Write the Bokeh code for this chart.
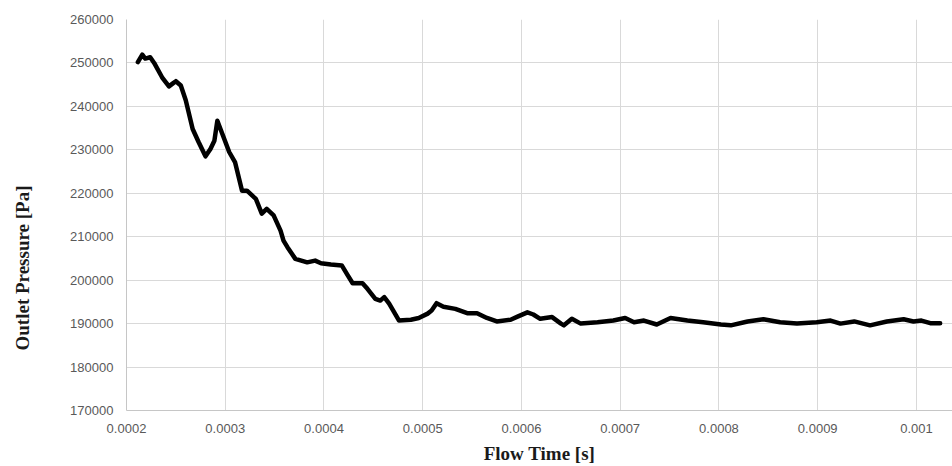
from bokeh.plotting import figure
from bokeh.models import Range1d, FixedTicker, CustomJSTickFormatter, Title
from bokeh.embed import file_html
from bokeh.resources import INLINE

# Flow time [s] and outlet pressure [Pa]
flow_time = [
    0.0002115, 0.000216, 0.000219, 0.000224, 0.000228, 0.000236, 0.000243, 0.000247,
    0.00025, 0.000255, 0.00026, 0.000267, 0.000273, 0.00028, 0.000285, 0.000289,
    0.000292, 0.000297, 0.000304, 0.00031, 0.000317, 0.000322, 0.000331, 0.000337,
    0.000342, 0.000349, 0.000356, 0.000359, 0.000363, 0.000371, 0.000383, 0.000391,
    0.000397, 0.000407, 0.000418, 0.000423, 0.000429, 0.000439, 0.000444, 0.000452,
    0.000457, 0.000461, 0.000466, 0.000476, 0.000488, 0.000496, 0.000505, 0.000509,
    0.000514, 0.000521, 0.000533, 0.000545, 0.000555, 0.000565, 0.000575, 0.000589,
    0.000596, 0.000606, 0.000612, 0.000619, 0.000631, 0.00064, 0.000643, 0.000651,
    0.00066, 0.000677, 0.000693, 0.000705, 0.000714, 0.000724, 0.000737, 0.000751,
    0.000768, 0.000784, 0.000802, 0.000812, 0.000829, 0.000845, 0.000862, 0.000879,
    0.000899, 0.000913, 0.000923, 0.000937, 0.000953, 0.00097, 0.000987, 0.000997,
    0.001005, 0.001014, 0.001024,
]
outlet_pressure = [
    250200, 251900, 251000, 251300, 250000, 246700, 244600, 245300,
    245800, 244800, 241400, 234800, 231800, 228500, 230200, 232100,
    236700, 233700, 229500, 227100, 220600, 220600, 218700, 215300,
    216400, 214900, 211400, 209100, 207600, 204900, 204100, 204500,
    203900, 203600, 203400, 201500, 199300, 199300, 198000, 195700,
    195300, 196100, 194600, 190700, 190900, 191300, 192300, 193000,
    194700, 193900, 193400, 192400, 192400, 191300, 190500, 190900,
    191600, 192600, 192100, 191100, 191500, 190000, 189600, 191100,
    190000, 190300, 190700, 191300, 190300, 190700, 189800, 191300,
    190700, 190300, 189800, 189600, 190500, 191000, 190300, 190000,
    190300, 190700, 190000, 190500, 189600, 190500, 191000, 190500,
    190700, 190100, 190100,
]

x_ticks = [0.0002, 0.0003, 0.0004, 0.0005, 0.0006, 0.0007, 0.0008, 0.0009, 0.001]
y_ticks = [170000, 180000, 190000, 200000, 210000, 220000, 230000, 240000, 250000, 260000]

p = figure(
    width=952, height=466,
    output_backend="svg", toolbar_location=None,
    x_range=Range1d(0.0002, 0.0010365), y_range=Range1d(170000, 260000),
    min_border_left=126, min_border_right=0, min_border_top=19, min_border_bottom=56,
)
p.outline_line_color = None
p.background_fill_color = "white"
p.border_fill_color = "white"

grid_color = "#d9d9d9"
axis_color = "#c6c6c6"
tick_color = "#595959"

p.xaxis.ticker = FixedTicker(ticks=x_ticks)
p.yaxis.ticker = FixedTicker(ticks=y_ticks)
p.xaxis.formatter = CustomJSTickFormatter(code="return String(Number(tick.toFixed(4)));")
p.yaxis.formatter = CustomJSTickFormatter(code="return String(Math.round(tick));")

for ax in (p.xaxis[0], p.yaxis[0]):
    ax.axis_line_color = axis_color
    ax.axis_line_width = 1
    ax.major_tick_line_color = None
    ax.minor_tick_line_color = None
    ax.major_tick_out = 0
    ax.major_tick_in = 0
    ax.major_label_text_font = "Liberation Sans"
    ax.major_label_text_font_size = "13px"
    ax.major_label_text_color = tick_color
    ax.major_label_standoff = 13

p.xgrid.grid_line_color = grid_color
p.ygrid.grid_line_color = grid_color
p.xgrid.grid_line_width = 1
p.ygrid.grid_line_width = 1

p.xaxis.axis_label = "Flow Time [s]"
p.xaxis.axis_label_text_font = "Liberation Serif"
p.xaxis.axis_label_text_font_style = "bold"
p.xaxis.axis_label_text_font_size = "19px"
p.xaxis.axis_label_text_color = "#1a1a1a"
p.xaxis.axis_label_standoff = 7

# blank spacer label widens the y-axis panel so the title sits further out
p.yaxis.axis_label = " "
p.yaxis.axis_label_text_font_size = "1px"
p.yaxis.axis_label_standoff = 29

# Vertical axis title, anchored from the bottom of the frame
y_title = Title(
    text="Outlet Pressure [Pa]", align="left", offset=60, standoff=0,
    vertical_align="top",
    text_font="Liberation Serif", text_font_style="bold",
    text_font_size="19px", text_color="#1a1a1a",
)
p.add_layout(y_title, "left")

p.line(flow_time, outlet_pressure, line_color="black", line_width=4.5,
       line_join="round", line_cap="round")

open("out.html", "w").write(file_html(p, INLINE))
